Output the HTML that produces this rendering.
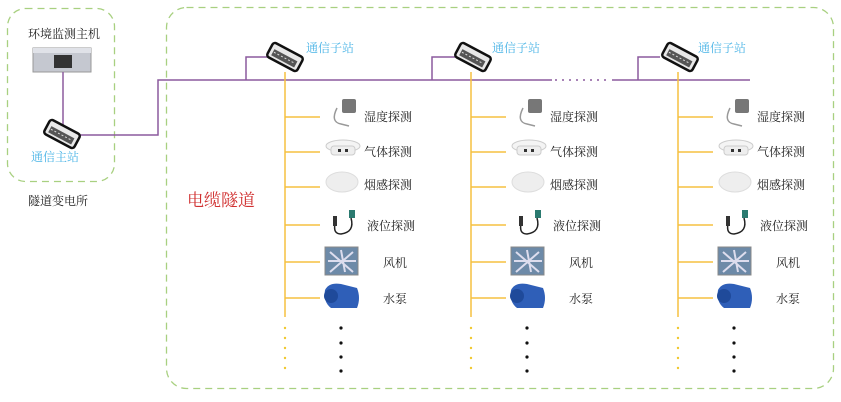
<!DOCTYPE html>
<html><head><meta charset="utf-8"><style>
html,body{margin:0;padding:0;background:#fff;}
svg{display:block;font-family:"Liberation Serif","Noto Serif CJK SC","Noto Sans CJK SC",serif;}
</style></head><body>
<svg width="841" height="402" viewBox="0 0 841 402" xmlns="http://www.w3.org/2000/svg">
<defs>
<g id="sw">
  <g transform="rotate(28)">
    <rect x="-17" y="-8" width="34" height="16" rx="3" fill="#e8e8e8" stroke="#111" stroke-width="2.5"/>
    <rect x="-13" y="-2" width="26" height="7" fill="#555"/>
    <line x1="-12" y1="1" x2="12" y2="1" stroke="#ddd" stroke-width="1" stroke-dasharray="2,2"/>
  </g>
</g>
<g id="col">
  <line x1="0" y1="0" x2="0" y2="245" stroke="#f5c040" stroke-width="1.5"/>
  <g stroke="#f5c040" stroke-width="1.5">
    <line x1="0" y1="45" x2="35" y2="45"/><line x1="0" y1="80" x2="35" y2="80"/>
    <line x1="0" y1="115" x2="35" y2="115"/><line x1="0" y1="153" x2="35" y2="153"/>
    <line x1="0" y1="190" x2="35" y2="190"/><line x1="0" y1="226" x2="35" y2="226"/>
  </g>
  <g fill="#f0c830"><circle cx="0" cy="256" r="1.2"/><circle cx="0" cy="266" r="1.2"/><circle cx="0" cy="276" r="1.2"/><circle cx="0" cy="286" r="1.2"/><circle cx="0" cy="296" r="1.2"/></g>
  <g fill="#111"><circle cx="56" cy="256" r="1.6"/><circle cx="56" cy="271" r="1.6"/><circle cx="56" cy="285" r="1.6"/><circle cx="56" cy="299" r="1.6"/></g>
  <!-- humidity -->
  <rect x="57" y="27" width="14" height="14" rx="2" fill="#777"/>
  <path d="M52 36 Q45 50 56 52 L64 54" fill="none" stroke="#999" stroke-width="1.5"/>
  <!-- gas -->
  <ellipse cx="58" cy="74" rx="17" ry="6" fill="#f4f4f4" stroke="#ccc"/>
  <rect x="46" y="74" width="24" height="9" rx="3" fill="#eee" stroke="#ccc"/>
  <rect x="53" y="77" width="3" height="3" fill="#333"/><rect x="60" y="77" width="3" height="3" fill="#333"/>
  <!-- smoke -->
  <ellipse cx="57" cy="110" rx="16" ry="10" fill="#eee" stroke="#ddd"/>
  <!-- level -->
  <rect x="64" y="138" width="6" height="8" fill="#2b7a70"/>
  <path d="M66 146 Q70 160 56 162 Q48 162 50 152" fill="none" stroke="#222" stroke-width="1.5"/>
  <rect x="48" y="144" width="4" height="10" fill="#333"/>
  <!-- fan -->
  <rect x="40" y="175" width="33" height="28" fill="#6d8aa8" stroke="#888"/>
  <path d="M56 178 L60 200 M43 189 L71 189 M45 180 L68 200 M68 180 L45 200" stroke="#dde" stroke-width="2"/>
  <!-- pump -->
  <path d="M40 218 Q38 230 46 236 L72 236 Q76 226 72 216 L56 212 Q44 210 40 218Z" fill="#2f5fb8"/>
  <circle cx="46" cy="224" r="7" fill="#1f4a9a"/>
</g>
</defs>
<rect x="7.5" y="8.5" width="107" height="173" rx="18" fill="none" stroke="#a8d080" stroke-width="1.3" stroke-dasharray="7,5"/>
<rect x="166.5" y="7.5" width="667" height="381" rx="20" fill="none" stroke="#a8d080" stroke-width="1.3" stroke-dasharray="7,5"/>
<text x="28" y="38" font-size="12" fill="#222">环境监测主机</text>
<rect x="33" y="48" width="58" height="24" fill="#c5c8d0" stroke="#999"/>
<rect x="33" y="48" width="58" height="5" fill="#e0e2e8"/>
<rect x="54" y="55" width="18" height="13" fill="#333"/>
<g stroke="#8c5a9e" stroke-width="1.5" fill="none">
  <line x1="63" y1="72" x2="63" y2="125"/>
  <polyline points="75,135 158,135 158,80 552,80"/>
  <line x1="612" y1="80" x2="750" y2="80"/>
  <polyline points="246,80 246,57 270,57"/>
  <polyline points="432,80 432,57 455,57"/>
  <polyline points="638,80 638,57 660,57"/>
  <line x1="555" y1="80" x2="610" y2="80" stroke-dasharray="2,5"/>
</g>
<use href="#sw" x="62" y="134"/>
<use href="#sw" x="285" y="57"/>
<use href="#sw" x="473" y="57"/>
<use href="#sw" x="680" y="57"/>
<text x="31" y="161" font-size="12" fill="#4ab4e6">通信主站</text>
<text x="28" y="205" font-size="12" fill="#222">隧道变电所</text>
<text x="306" y="52" font-size="12" fill="#4ab4e6">通信子站</text>
<text x="492" y="52" font-size="12" fill="#4ab4e6">通信子站</text>
<text x="698" y="52" font-size="12" fill="#4ab4e6">通信子站</text>
<text x="187" y="206" font-size="17" fill="#d03030">电缆隧道</text>
<use href="#col" x="285" y="72"/>
<use href="#col" x="471" y="72"/>
<use href="#col" x="678" y="72"/>
<g font-size="12" fill="#222">
  <text x="364" y="121">湿度探测</text><text x="364" y="156">气体探测</text><text x="364" y="189">烟感探测</text>
  <text x="367" y="230">液位探测</text><text x="383" y="267">风机</text><text x="383" y="303">水泵</text>
  <text x="550" y="121">湿度探测</text><text x="550" y="156">气体探测</text><text x="550" y="189">烟感探测</text>
  <text x="553" y="230">液位探测</text><text x="569" y="267">风机</text><text x="569" y="303">水泵</text>
  <text x="757" y="121">湿度探测</text><text x="757" y="156">气体探测</text><text x="757" y="189">烟感探测</text>
  <text x="760" y="230">液位探测</text><text x="776" y="267">风机</text><text x="776" y="303">水泵</text>
</g>
</svg>
</body></html>
